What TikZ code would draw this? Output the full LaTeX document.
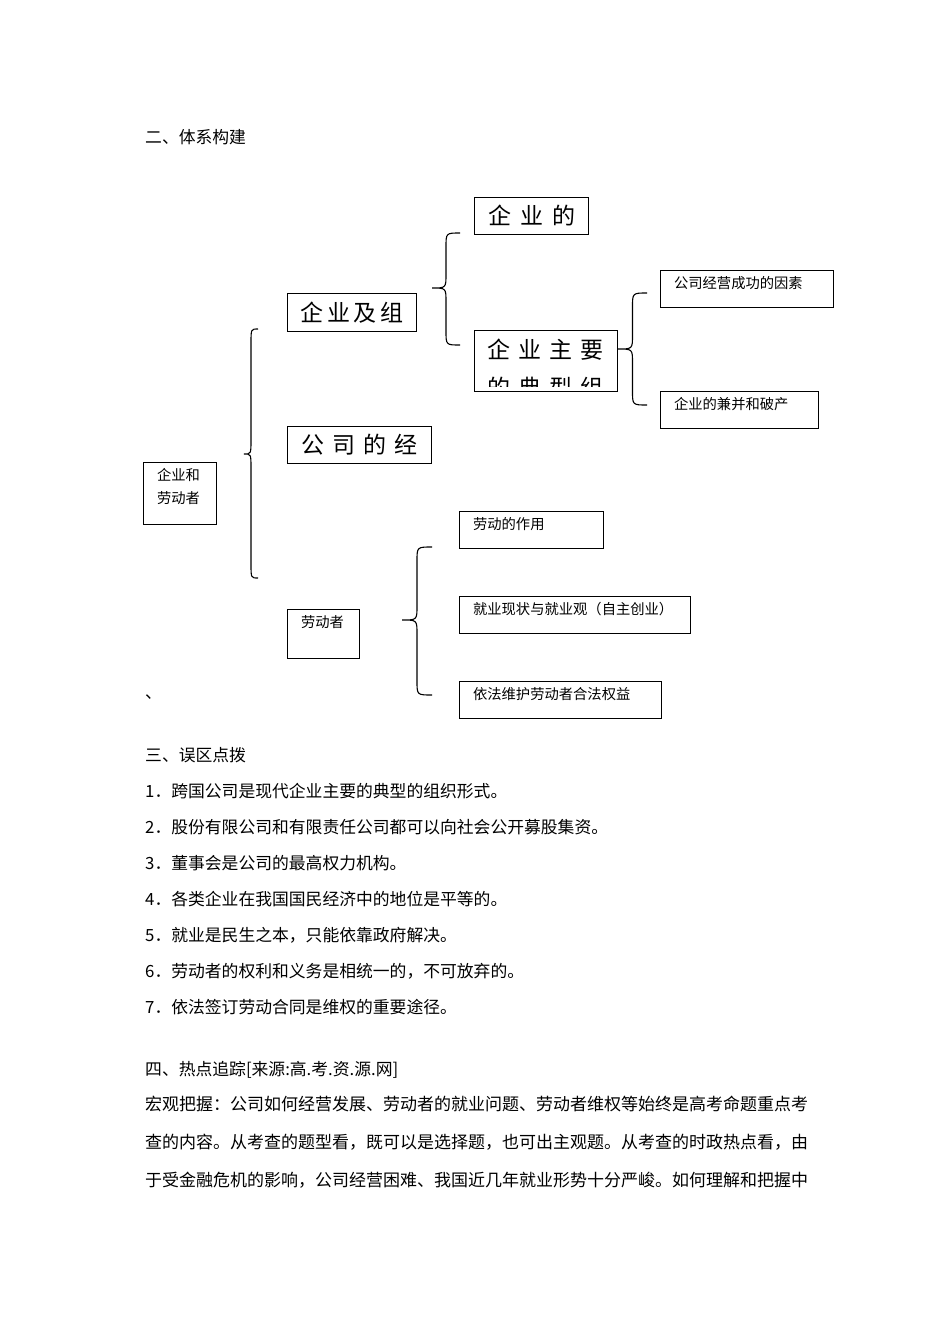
\documentclass[tikz,border=0pt]{standalone}
\usepackage{fontspec}
\setmainfont{Noto Sans CJK SC}
\usetikzlibrary{calc}
\tikzset{
  bbox/.style={draw, line width=1.1pt, anchor=north west, inner sep=0pt,
               font=\fontsize{23}{28}\selectfont, text height=19.1pt, text depth=1.6pt},
  sbox/.style={draw, line width=1.1pt, anchor=north west, inner xsep=13.5pt, inner ysep=0pt,
               align=left, font=\fontsize{14.3}{23}\selectfont, text height=18.4pt},
  bigtxt/.style={anchor=west, inner sep=0pt, font=\fontsize{23}{28}\selectfont,
                 text height=19.1pt, text depth=1.6pt},
  txt/.style={anchor=west, inner sep=0pt, font=\fontsize{16.8}{20}\selectfont,
              text height=13.9pt, text depth=1.2pt},
  brc/.style={line width=1.1pt}
}
\newcommand{\gp}[1]{\hspace{#1pt}}
% brace: end x, half width, top y, tip y, bottom y
\newcommand{\cbrace}[5]{%
  \draw[brc] (#1,#3) .. controls (#1-#2,#3) .. (#1-#2,#3+14) -- (#1-#2,#4-14)
    .. controls (#1-#2,#4) .. (#1-2*#2,#4) .. controls (#1-#2,#4) .. (#1-#2,#4+14)
    -- (#1-#2,#5-14) .. controls (#1-#2,#5) .. (#1,#5);}

\begin{document}
\begin{tikzpicture}[x=1pt, y=-1pt]
  \fill[white] (0,0) rectangle (950,1344);
  \useasboundingbox (0,0) rectangle (950,1344);

  \node[txt] (h2) at (145,137) {二、体系构建};

  % concept map
  \node[sbox, text width=46pt, text depth=43.6pt] (qyld) at (143,462) {企业和\\劳动者};
  \node[bbox, minimum width=129pt, minimum height=38pt] (qyjz) at (287,293) {企\gp{3.5}业\gp{3.5}及\gp{3.5}组};
  \node[bbox, minimum width=144pt, minimum height=37pt] (gsdj) at (287,426) {公\gp8司\gp8的\gp8经};
  \node[sbox, text width=45pt, text depth=30.6pt] (ldz) at (287,609) {劳动者};
  \node[bbox, minimum width=114pt, minimum height=37pt] (qyd) at (474,197) {企\gp9业\gp9的};
  \node[bbox, minimum width=143pt, minimum height=61pt] (zyzx) at (474,330) {};
  \begin{scope}
    \clip (zyzx.north west) rectangle ($(zyzx.south east)+(0,-6)$);
    \node[bigtxt] (zyzx1) at (487.5,350) {企\gp8业\gp8主\gp8要};
    \node[bigtxt] (zyzx2) at (487.5,388) {的\gp8典\gp8型\gp8组};
  \end{scope}
  \node[sbox, text width=146pt, text depth=18.6pt] (cgys) at (660,270) {公司经营成功的因素};
  \node[sbox, text width=131pt, text depth=18.6pt] (jbpc) at (660,391) {企业的兼并和破产};
  \node[sbox, text width=117pt, text depth=18.6pt] (ldzy) at (459,511) {劳动的作用};
  \node[sbox, text width=204pt, text depth=18.6pt] (jyxz) at (459,596) {就业现状与就业观（自主创业）};
  \node[sbox, text width=175pt, text depth=18.6pt] (yfwh) at (459,681) {依法维护劳动者合法权益};

  \cbrace{258}{7}{329}{454}{578}
  \cbrace{460}{14}{233}{288}{345}
  \cbrace{647}{14.5}{293}{349}{405}
  \cbrace{432}{15}{547}{620}{695}

  \node[txt] (dun) at (145,692) {、};

  % misreadings
  \node[txt] (h3) at (145,755) {三、误区点拨};
  \foreach \t [count=\i] in {跨国公司是现代企业主要的典型的组织形式。,
      股份有限公司和有限责任公司都可以向社会公开募股集资。,
      董事会是公司的最高权力机构。,
      各类企业在我国国民经济中的地位是平等的。,
      就业是民生之本，只能依靠政府解决。,
      劳动者的权利和义务是相统一的，不可放弃的。,
      依法签订劳动合同是维权的重要途径。}
    \node[txt] (wq\i) at (145,755+36*\i) {\i．\t};

  % hot spots
  \node[txt] (h4) at (145,1069) {四、热点追踪[来源:高.考.资.源.网]};
  \foreach \t [count=\i] in {宏观把握：公司如何经营发展、劳动者的就业问题、劳动者维权等始终是高考命题重点考,
      查的内容。从考查的题型看，既可以是选择题，也可出主观题。从考查的时政热点看，由,
      于受金融危机的影响，公司经营困难、我国近几年就业形势十分严峻。如何理解和把握中}
    \node[txt, font=\fontsize{17}{20}\selectfont] (rd\i) at (145,1066+38*\i) {\t};
\end{tikzpicture}
\end{document}
